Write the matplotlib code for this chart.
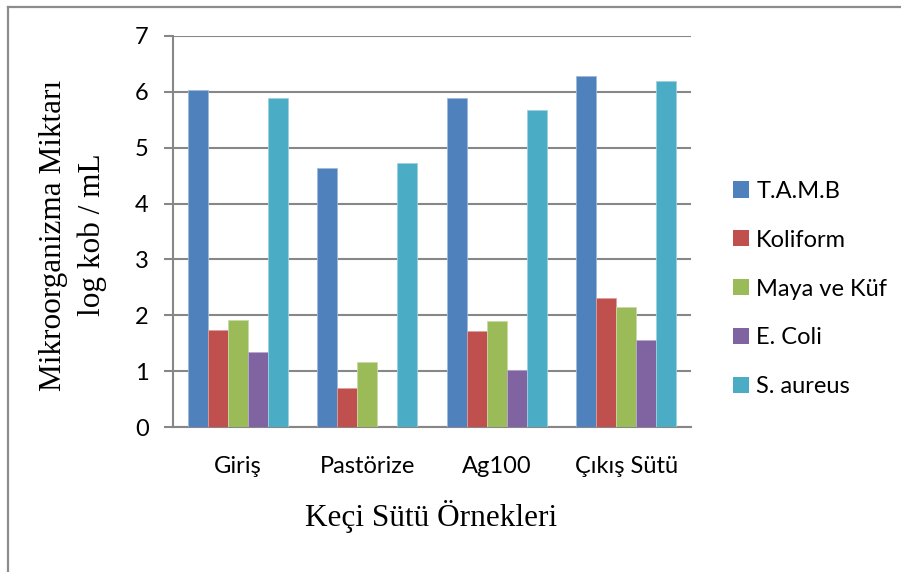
import numpy as np
import matplotlib
matplotlib.use("Agg")
import matplotlib.pyplot as plt
from matplotlib.colors import to_rgb
from matplotlib.patches import Patch
from matplotlib.lines import Line2D

# Sample groups and microbial counts (log kob / mL)
categories = ["Giriş", "Pastörize", "Ag100", "Çıkış Sütü"]
series_names = ["T.A.M.B", "Koliform", "Maya ve Küf", "E. Coli", "S. aureus"]
tamb = [6.04, 4.64, 5.89, 6.29]
koliform = [1.74, 0.69, 1.71, 2.31]
maya_kuf = [1.91, 1.17, 1.90, 2.14]
e_coli = [1.34, 0.0, 1.02, 1.55]
s_aureus = [5.89, 4.73, 5.68, 6.19]
yticks = [0, 1, 2, 3, 4, 5, 6, 7]

series_values = [tamb, koliform, maya_kuf, e_coli, s_aureus]
colors = ["#4F81BD", "#C0504D", "#9BBB59", "#8064A2", "#4BACC6"]

W, H, DPI = 901, 572, 100
fig = plt.figure(figsize=(W / DPI, H / DPI), dpi=DPI)
fig.patch.set_facecolor("white")

# plot area in pixel terms
left_px, right_px, top_px, bottom_px = 173, 691, 36, 427
ax = fig.add_axes([left_px / W, 1 - bottom_px / H,
                   (right_px - left_px) / W, (bottom_px - top_px) / H])

tick_font = "Lato"
serif_font = "Liberation Serif"
grid_col = "#878787"

x = np.arange(len(categories))
bar_w = 0.772 / len(series_names)
for i, (name, vals, col) in enumerate(zip(series_names, series_values, colors)):
    light = tuple(0.55 * c + 0.45 for c in to_rgb(col))
    offs = (i - (len(series_names) - 1) / 2) * bar_w
    ax.bar(x + offs, vals, width=bar_w, color=col, edgecolor=light,
           linewidth=0.6, label=name, zorder=3)

ax.set_xlim(-0.5, len(categories) - 0.5)
ax.set_ylim(0, 7)
ax.set_yticks(yticks)
ax.set_yticklabels([str(t) for t in yticks], fontsize=17, family=tick_font)
ax.set_xticks(x)
ax.set_xticklabels(categories, fontsize=17, family=tick_font)

ax.yaxis.grid(True, color=grid_col, linewidth=1.5, zorder=0)
ax.set_axisbelow(True)
for s in ["top", "right"]:
    ax.spines[s].set_visible(False)
for s in ["left", "bottom"]:
    ax.spines[s].set_color(grid_col)
    ax.spines[s].set_linewidth(1.5)
ax.tick_params(axis="y", direction="out", length=6.5, width=1.5,
               color=grid_col, pad=11)
ax.tick_params(axis="x", length=0, pad=21)

# axis titles, placed by their baselines
title_kw = dict(family=serif_font, fontsize=22.5, rotation=90,
                rotation_mode="anchor", ha="center", va="baseline")
fig.text(61 / W, 1 - 235 / H, "Mikroorganizma Miktarı", **title_kw)
fig.text(100 / W, 1 - 235 / H, "log kob / mL", **title_kw)
fig.text(431 / W, 1 - 526 / H, "Keçi Sütü Örnekleri", family=serif_font,
         fontsize=22.5, ha="center", va="baseline")

handles = [Patch(facecolor=c, edgecolor="none") for c in colors]
fig.legend(handles, series_names, loc="center left",
           bbox_to_anchor=(733 / W, 1 - 289 / H), frameon=False,
           prop={"family": tick_font, "size": 17}, borderpad=0,
           borderaxespad=0, handlelength=0.68, handleheight=0.68,
           handletextpad=0.3, labelspacing=1.18)

# outer chart frame (left and top edges)
fig.add_artist(Line2D([7.5 / W, 7.5 / W], [0, 1 - 6.5 / H],
                      transform=fig.transFigure, color="#8c8c8c", linewidth=1.6))
fig.add_artist(Line2D([7.5 / W, 1], [1 - 6.5 / H, 1 - 6.5 / H],
                      transform=fig.transFigure, color="#8c8c8c", linewidth=1.6))

fig.savefig("out.png", dpi=DPI, facecolor="white")
